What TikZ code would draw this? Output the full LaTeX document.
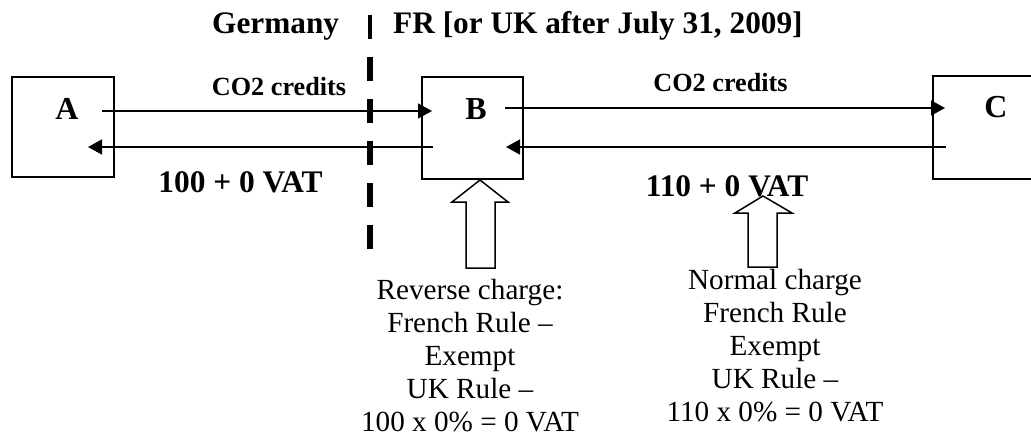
\documentclass[tikz,border=0pt]{standalone}
\usepackage{fontspec}
\setmainfont{Liberation Serif}
\usetikzlibrary{arrows.meta}
\begin{document}
\begin{tikzpicture}[x=1pt,y=-1pt,
  box/.style={draw, line width=2pt, inner sep=0pt},
  flow/.style={line width=1.5pt, -{Triangle[length=14pt,width=15pt]}},
  hd/.style={inner sep=0pt, font=\bfseries\fontsize{31.3}{34}\selectfont},
  flowlbl/.style={inner sep=0pt, anchor=base, font=\bfseries\fontsize{26.2}{28}\selectfont},
  amount/.style={inner sep=0pt, anchor=base, font=\bfseries\fontsize{31.4}{34}\selectfont},
  letter/.style={inner sep=0pt, anchor=base, font=\bfseries\fontsize{32}{34}\selectfont},
  note/.style={inner sep=0pt, anchor=base, align=center, font=\fontsize{29.2}{33}\selectfont},
  blockarrow/.style={draw, line width=1.5pt, fill=white, line join=miter},
  border/.style={line width=6pt, dash pattern=on 24pt off 18pt}
]
\useasboundingbox (0,0) rectangle (1031,437);
\clip (0,0) rectangle (1031,437);

% heading
\node[hd, anchor=base west] (de) at (212,33) {Germany};
\node[hd, anchor=base west] (fr) at (393,33) {FR [or UK after July 31, 2009]};
\coordinate (bar1) at (370,15);
\coordinate (bar2) at (370,39);
\draw[line width=3.5pt] (bar1) -- (bar2);

% border line
\coordinate (dl1) at (370,57);
\coordinate (dl2) at (370,249);
\draw[border] (dl1) -- (dl2);

% boxes
\node[box, minimum width=102pt, minimum height=100pt] (A) at (63,127) {};
\node[box, minimum width=101pt, minimum height=102pt] (B) at (472.5,128) {};
\node[box, minimum width=107pt, minimum height=103pt] (C) at (986.5,127.5) {};
\node[letter] (la) at (67,119) {A};
\node[letter] (lb) at (476,119) {B};
\node[letter] (lc) at (996,117) {C};

% flows
\coordinate (ab1) at (102,111);
\coordinate (ab2) at (432,111);
\coordinate (ba1) at (433,147);
\coordinate (ba2) at (88,147);
\coordinate (bc1) at (505,108);
\coordinate (bc2) at (945,108);
\coordinate (cb1) at (946,147);
\coordinate (cb2) at (506,147);
\draw[flow] (ab1) -- (ab2);
\draw[flow] (ba1) -- (ba2);
\draw[flow] (bc1) -- (bc2);
\draw[flow] (cb1) -- (cb2);

\node[flowlbl] (co1) at (279,95) {CO2 credits};
\node[flowlbl] (co2) at (720.5,91) {CO2 credits};
\node[amount] (am1) at (240.5,192) {100 + 0 VAT};
\node[amount] (am2) at (727,196) {110 + 0 VAT};

% block arrows
\draw[blockarrow] (480,180) -- (508,202) -- (495,202) -- (495,268) -- (466,268) -- (466,202) -- (452,202) -- cycle;
\draw[blockarrow] (763,196) -- (792,213) -- (777,213) -- (777,267) -- (748,267) -- (748,213) -- (735,213) -- cycle;

% notes (anchor = baseline of the last line)
\node[note] (rc) at (470,431) {Reverse charge:\\French Rule --\\Exempt\\UK Rule --\\100 x 0\% = 0 VAT};
\node[note] (nc) at (775,421) {Normal charge\\French Rule\\Exempt\\UK Rule --\\110 x 0\% = 0 VAT};
\end{tikzpicture}
\end{document}
